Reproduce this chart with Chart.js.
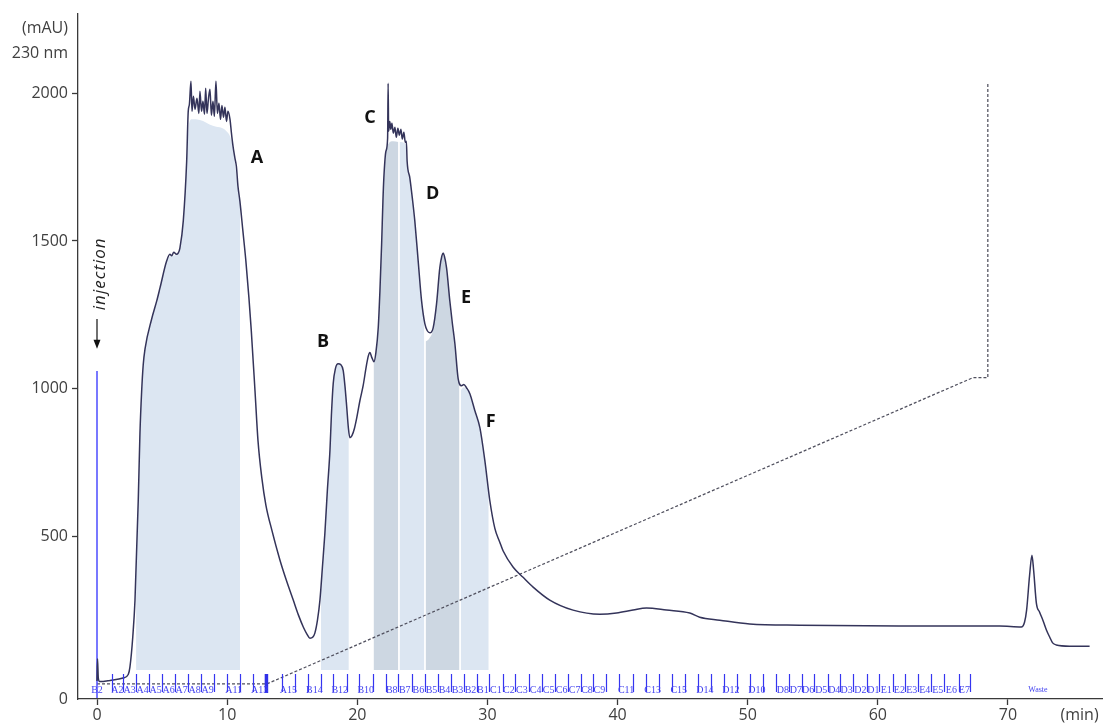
<!DOCTYPE html>
<html><head><meta charset="utf-8">
<script src="https://cdn.jsdelivr.net/npm/chart.js@4.4.1/dist/chart.umd.min.js"></script>
<style>html,body{margin:0;padding:0;background:#fff}#wrap{width:1103px;height:726px;position:relative}</style>
</head><body><div id="wrap"><canvas id="c"></canvas></div>
<script>
// ---- chromatogram trace (time in min, absorbance in mAU) ----
const traceT = [0.0,0.04,0.1,0.2,1.0,2.0,2.4,2.53,2.75,2.92,3.17,3.30,3.43,3.55,3.69,4.20,4.59,4.84,5.35,5.6,5.74,5.9,6.1,6.24,6.37,6.63,6.89,7.01,
7.10,7.22,7.30,7.41,7.53,7.68,7.83,7.91,8.03,8.14,8.26,8.35,8.45,8.56,8.68,8.79,8.91,9.02,9.14,9.25,9.37,9.49,9.60,9.72,9.83,9.95,10.06,10.22,
10.33,10.45,10.60,10.71,10.83,10.98,11.21,11.44,11.67,11.85,12.14,12.37,12.67,12.98,13.44,14.06,14.55,15.08,15.48,15.85,16.13,16.36,16.59,16.74,
16.94,17.13,17.32,17.51,17.70,17.90,18.01,18.15,18.32,18.53,18.74,18.92,19.05,19.18,19.32,19.43,19.59,19.78,19.95,20.20,20.45,20.70,20.85,20.97,
21.12,21.28,21.43,21.61,21.74,21.87,21.97,22.04,22.20,22.33,22.37,22.41,22.50,22.58,22.66,22.77,22.89,23.00,23.12,23.23,23.35,23.46,23.58,23.69,
23.77,23.83,24.04,24.23,24.42,24.68,24.94,25.19,25.38,25.58,25.83,26.09,26.34,26.50,26.60,26.69,26.86,27.11,27.30,27.50,27.75,28.01,28.19,28.39,
28.65,29.03,29.42,29.80,30.18,30.57,30.95,31.21,31.98,32.74,33.51,34.79,36.58,38.63,39.92,41.19,42.22,43.76,45.55,46.31,47.85,50.15,53.99,61.67,
69.35,71.02,71.27,71.43,71.66,71.84,71.97,72.18,72.43,72.68,72.96,73.20,73.43,73.71,74.73,76.27];
const traceV = [10,85,20,8,12,20,32,57,160,284,622,848,990,1080,1135,1236,1297,1341,1432,1455,1450,1462,1455,1459,1476,1568,1770,1939,
1963,2041,1939,1990,1946,1983,1932,2007,1939,1973,1929,2017,1932,1980,2014,1926,1973,1922,2041,1932,1966,1912,1959,1919,1953,1905,1939,1912,
1865,1821,1780,1753,1686,1635,1534,1432,1310,1200,993,824,696,605,520,419,351,284,233,193,169,155,159,172,
216,284,395,510,655,791,909,1017,1068,1084,1081,1061,1010,943,865,834,841,865,899,959,1010,1078,1111,1122,
1105,1091,1122,1206,1331,1490,1635,1713,1804,1848,2034,1872,1905,1878,1899,1865,1885,1851,1882,1858,1878,1845,1868,1834,
1838,1770,1713,1645,1568,1432,1297,1220,1196,1189,1206,1287,1409,1449,1459,1449,1409,1297,1223,1152,1034,1010,1014,1003,
983,926,868,757,622,527,480,450,395,361,328,284,250,236,240,250,257,250,240,226,216,203,199,196,
196,193,209,250,368,436,385,274,243,216,182,159,139,132,128,128];

// ---- gradient programme (dashed) ----
const gradT = [0, 13.05, 67.3, 68.45, 68.45];
const gradV = [0, 0, 1037, 1037, 2035];

// ---- injection marker ----
const injectT = [0, 0];
const injectV = [-48, 1060];

// ---- collected fractions (shaded areas) ----
const fillBase = 47;
const fillAT = [3.0,3.17,3.30,3.43,3.55,3.69,4.20,4.59,4.84,5.35,5.74,6.24,6.37,6.63,6.89,7.05,7.3,7.9,8.9,9.95,10.33,10.6,10.83,11.0];
const fillAV = [390,622,848,990,1080,1135,1236,1297,1341,1432,1450,1455,1470,1560,1760,1890,1912,1910,1890,1872,1840,1765,1675,1625];
const fillBT = [17.2,17.32,17.51,17.70,17.90,18.01,18.15,18.32,18.53,18.74,18.92,19.05,19.18,19.35];
const fillBV = [310,395,510,655,791,909,1017,1068,1084,1081,1061,1010,943,850];
const fillCT = [21.25,21.43,21.61,21.74,21.87,21.97,22.04,22.20,22.37,22.76,23.15];
const fillCV = [1090,1118,1200,1325,1485,1630,1705,1795,1828,1838,1835];
const fillDT = [23.25,23.69,23.83,24.04,24.23,24.42,24.68,24.94,25.15];
const fillDV = [1835,1830,1765,1708,1640,1563,1428,1293,1228];
const fillET = [25.25,25.5,25.83,26.09,26.34,26.5,26.6,26.69,26.86,27.11,27.30,27.50,27.75,27.85];
const fillEV = [1160,1168,1200,1280,1400,1440,1450,1440,1400,1290,1215,1145,1030,1018];
const fillFT = [27.95,28.19,28.39,28.65,29.03,29.42,29.80,30.1];
const fillFV = [995,1005,998,978,920,862,752,650];

// ---- fraction collector marks ----
const fractionMarks = [1.13,2.02,3.0,4.0,5.0,6.0,7.0,8.0,9.0,10.0,11.0,12.0,14.2,15.2,16.2,17.2,18.1,19.2,20.1,21.2,22.2,23.1,24.2,25.2,26.2,27.2,
28.2,29.2,30.1,31.2,32.1,33.2,34.2,35.2,36.2,37.2,38.1,39.1,40.1,41.2,42.2,43.2,44.2,45.2,46.2,47.2,48.2,49.2,50.2,51.2,52.2,53.2,54.2,55.1,
56.2,57.1,58.1,59.2,60.1,61.2,62.1,63.1,64.1,65.1,66.2,67.1];
const fractionThick = [13.0];
const fractionLabels = ['B2','A2','A3','A4','A5','A6','A7','A8','A9','A11','A13','A15','B14','B12','B10','B8','B7','B6','B5','B4','B3','B2','B1',
'C1','C2','C3','C4','C5','C6','C7','C8','C9','C11','C13','C15','D14','D12','D10','D8','D7','D6','D5','D4','D3','D2','D1',
'E1','E2','E3','E4','E5','E6','E7','Waste'];
const fractionLabelT = [0,1.57,2.5,3.5,4.5,5.5,6.5,7.5,8.5,10.5,12.5,14.7,16.7,18.65,20.65,22.65,23.65,24.7,25.7,26.7,27.7,28.7,29.65,
30.65,31.65,32.65,33.7,34.7,35.7,36.7,37.65,38.6,40.65,42.7,44.7,46.7,48.7,50.7,52.7,53.7,54.65,55.65,56.65,57.6,58.65,59.65,
60.65,61.65,62.6,63.6,64.6,65.65,66.65,72.3];

// ---- peak names ----
const peakNames = ['A','B','C','D','E','F'];
const peakLabelT = [12.29,17.36,20.97,25.8,28.35,30.26];
const peakLabelV = [1780,1159,1916,1659,1307,889];

// ---- axes ----
const xTicks = [0,10,20,30,40,50,60,70];
const xUnitLabel = '(min)';
const yTicks = [500,1000,1500,2000];
const yUnitLabels = ['230 nm','(mAU)'];

const pts = (T, V) => T.map((t, i) => ({x: t, y: V[i]}));
const LIGHT = '#dce6f2', DARK = '#cdd7e2';
const fillDS = (T, V, c) => ({data: pts(T, V), backgroundColor: c, borderWidth: 0, pointRadius: 0,
  fill: {value: fillBase}, order: 10, cubicInterpolationMode: 'monotone'});

const annot = {
  id: 'annot',
  afterDatasetsDraw(chart) {
    const {ctx, scales: {x, y}, chartArea} = chart;
    const b = chartArea.bottom;
    ctx.save();
    // fraction marks
    ctx.strokeStyle = '#3535f0'; ctx.lineWidth = 1.2;
    fractionMarks.forEach(t => {
      const px = Math.round(x.getPixelForValue(t)) + 0.5;
      ctx.beginPath(); ctx.moveTo(px, b - 25); ctx.lineTo(px, b - 7); ctx.stroke();
    });
    ctx.fillStyle = '#3030e8';
    fractionThick.forEach(t => {
      const px = x.getPixelForValue(t);
      ctx.fillRect(px - 1.5, b - 25, 3.5, 19);
    });
    ctx.fillStyle = '#4444f0'; ctx.textAlign = 'center'; ctx.textBaseline = 'middle';
    fractionLabels.forEach((l, i) => {
      ctx.font = (l === 'Waste' ? '8px' : '10px') + ' "Liberation Serif"';
      ctx.fillText(l, x.getPixelForValue(fractionLabelT[i]), b - 9);
    });
    // peak letters
    ctx.fillStyle = '#111'; ctx.font = 'bold 18px "Open Sans"';
    peakNames.forEach((n, i) => ctx.fillText(n, x.getPixelForValue(peakLabelT[i]), y.getPixelForValue(peakLabelV[i])));
    // injection annotation
    const ix = x.getPixelForValue(injectT[0]);
    ctx.save();
    ctx.translate(ix + 3, y.getPixelForValue(1389));
    ctx.rotate(-Math.PI / 2);
    ctx.font = 'italic 17px "Open Sans"'; ctx.fillStyle = '#222';
    ctx.letterSpacing = '1px';
    ctx.fillText('injection', 0, 0);
    ctx.restore();
    const a0 = y.getPixelForValue(1236), a1 = y.getPixelForValue(1135);
    ctx.strokeStyle = '#111'; ctx.lineWidth = 1.2;
    ctx.beginPath(); ctx.moveTo(ix, a0); ctx.lineTo(ix, a1 - 6); ctx.stroke();
    ctx.fillStyle = '#111';
    ctx.beginPath(); ctx.moveTo(ix - 3.5, a1 - 9); ctx.lineTo(ix + 3.5, a1 - 9); ctx.lineTo(ix, a1); ctx.closePath(); ctx.fill();
    ctx.restore();
  }
};

new Chart(document.getElementById('c'), {
  type: 'line',
  data: {
    datasets: [
      {data: pts(traceT, traceV), borderColor: '#34345a', borderWidth: 1.5, pointRadius: 0, fill: false, order: 0,
        cubicInterpolationMode: 'monotone'},
      {data: pts(injectT, injectV), borderColor: '#4b4bff', borderWidth: 1.5, pointRadius: 0, fill: false, order: 1},
      {data: pts(gradT, gradV), borderColor: '#50505e', borderWidth: 1.25, borderDash: [3, 2], pointRadius: 0, fill: false, order: 2},
      fillDS(fillAT, fillAV, LIGHT),
      fillDS(fillBT, fillBV, LIGHT),
      fillDS(fillCT, fillCV, DARK),
      fillDS(fillDT, fillDV, LIGHT),
      fillDS(fillET, fillEV, DARK),
      fillDS(fillFT, fillFV, LIGHT)
    ]
  },
  options: {
    animation: false, responsive: true, maintainAspectRatio: false,
    layout: {padding: {top: 12, right: 0, left: 0, bottom: 0}},
    plugins: {legend: {display: false}, tooltip: {enabled: false}},
    scales: {
      x: {
        type: 'linear', min: -1.46, max: 77.3,
        afterFit: s => { s.height = 27; },
        afterBuildTicks: s => { s.ticks = xTicks.concat([75.5]).map(v => ({value: v})); },
        ticks: {autoSkip: false, maxRotation: 0, padding: 1, color: '#404040',
          font: {family: '"Open Sans"', size: 16},
          callback: v => (v > 70 ? xUnitLabel : String(v))},
        border: {display: true, color: '#3a3a3a', width: 1.3},
        grid: {display: true, drawOnChartArea: false, tickLength: 6,
          tickColor: c => (c.tick && c.tick.value > 70 ? 'rgba(0,0,0,0)' : '#3a3a3a'), tickWidth: 1.3}
      },
      y: {
        type: 'linear', min: -51, max: 2270,
        afterFit: s => { s.width = 78; },
        // the reference draws its "0" label at the foot of the axis
        afterBuildTicks: s => { s.ticks = [-51].concat(yTicks, [2135, 2220]).map(v => ({value: v})); },
        ticks: {autoSkip: false, padding: 4, color: '#404040', font: {family: '"Open Sans"', size: 16},
          callback: v => (v < 0 ? '0' : v === 2135 ? yUnitLabels[0] : v === 2220 ? yUnitLabels[1] : String(v))},
        border: {display: true, color: '#3a3a3a', width: 1.3},
        grid: {display: true, drawOnChartArea: false, tickLength: 6,
          tickColor: c => (c.tick && (c.tick.value < 0 || c.tick.value > 2000) ? 'rgba(0,0,0,0)' : '#3a3a3a'), tickWidth: 1.3}
      }
    }
  },
  plugins: [annot]
});
</script></body></html>
